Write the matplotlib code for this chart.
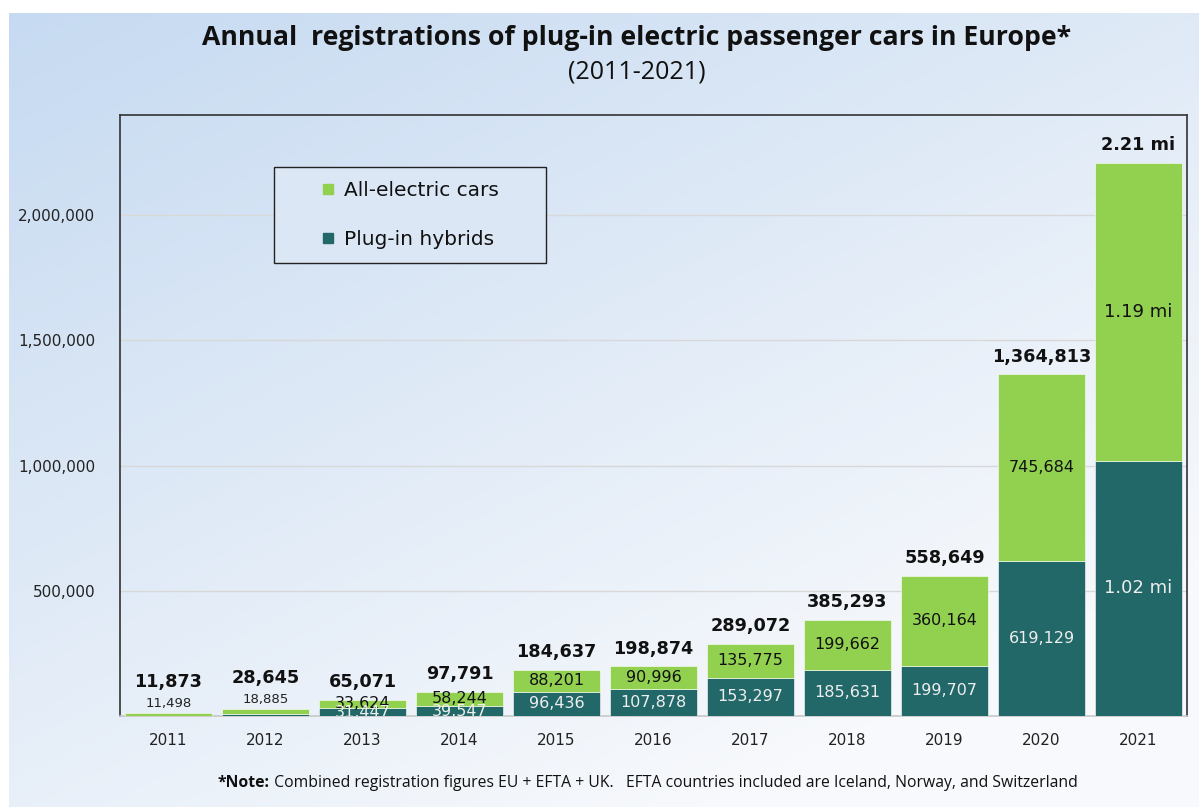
import matplotlib
matplotlib.use("Agg")
import matplotlib.pyplot as plt
import numpy as np
from matplotlib.lines import Line2D
from matplotlib.patches import Rectangle

years = ["2011", "2012", "2013", "2014", "2015", "2016", "2017", "2018", "2019", "2020", "2021"]
phev = [375, 9760, 31447, 39547, 96436, 107878, 153297, 185631, 199707, 619129, 1020000]
bev = [11498, 18885, 33624, 58244, 88201, 90996, 135775, 199662, 360164, 745684, 1190000]
totals_txt = ["11,873", "28,645", "65,071", "97,791", "184,637", "198,874", "289,072",
              "385,293", "558,649", "1,364,813", "2.21 mi"]
phev_txt = ["", "", "31,447", "39,547", "96,436", "107,878", "153,297", "185,631",
            "199,707", "619,129", "1.02 mi"]
bev_txt = ["11,498", "18,885", "33,624", "58,244", "88,201", "90,996", "135,775",
           "199,662", "360,164", "745,684", "1.19 mi"]
yticks = [500000, 1000000, 1500000, 2000000]
ytick_labels = ["500,000", "1,000,000", "1,500,000", "2,000,000"]

GREEN = "#92d050"
TEAL = "#226868"

W, H = 1199, 807
fig = plt.figure(figsize=(W / 100, H / 100), dpi=100)
fig.patch.set_facecolor("white")

# background gradient
bg = fig.add_axes([9 / W, 0, 1 - 9 / W, 1 - 13 / H])
bg.set_axis_off()
xx, yy = np.meshgrid(np.linspace(0, 1, 200), np.linspace(0, 1, 200))
t = np.clip(0.55 * xx + 0.75 * yy, 0, 1.1) / 1.1
c0 = np.array([0.776, 0.855, 0.945])
c1 = np.array([0.975, 0.98, 0.99])
img = c0[None, None, :] * (1 - t[..., None]) + c1[None, None, :] * t[..., None]
bg.imshow(img, aspect="auto", extent=[0, 1, 0, 1], origin="upper")
bg.set_zorder(-10)

ax_l, ax_r, ax_t, ax_b = 120, 1187, 115, 716
ax = fig.add_axes([ax_l / W, (H - ax_b) / H, (ax_r - ax_l) / W, (ax_b - ax_t) / H])
ax.patch.set_alpha(0)
x = np.arange(len(years))
ax.bar(x, phev, width=0.9, color=TEAL, edgecolor="white", linewidth=0.4, zorder=3)
ax.bar(x, bev, width=0.9, bottom=phev, color=GREEN, edgecolor="white", linewidth=0.4, zorder=3)
ax.set_xlim(-0.5, len(years) - 0.5)
ax.set_ylim(0, 2400000)
ax.set_yticks(yticks)
ax.set_yticklabels(ytick_labels, fontsize=11, color="#222222")
ax.set_xticks(x)
ax.set_xticklabels(years, fontsize=11, color="#222222")
ax.tick_params(axis="both", length=0)
ax.tick_params(axis="y", pad=18)
ax.tick_params(axis="x", pad=12)
ax.yaxis.grid(True, color="#d8d8d8", linewidth=1, zorder=0)
ax.set_axisbelow(True)
for s in ["left", "top", "right"]:
    ax.spines[s].set_color("#333333")
    ax.spines[s].set_linewidth(1.2)
ax.spines["bottom"].set_color("#c8c8c8")
ax.spines["bottom"].set_linewidth(1.2)

for i in range(len(years)):
    tot = phev[i] + bev[i]
    off = 16 if i < 2 else 6
    ax.annotate(totals_txt[i], xy=(x[i], tot), xytext=(0, off), textcoords="offset points",
                ha="center", va="bottom", fontsize=12.7, fontweight="bold", color="#111111", zorder=5)
    fs = 13 if i == 10 else 11.5
    if i < 2:
        ax.annotate(bev_txt[i], xy=(x[i], tot), xytext=(0, 2), textcoords="offset points",
                    ha="center", va="bottom", fontsize=9.5, color="#222222", zorder=5)
    else:
        ax.text(x[i], phev[i] + bev[i] / 2, bev_txt[i], ha="center", va="center",
                fontsize=fs, color="#111111", zorder=5)
        ax.text(x[i], phev[i] / 2, phev_txt[i], ha="center", va="center",
                fontsize=fs, color="#eeeeee", zorder=5, clip_on=(i < 4))

# legend
def fx(px):
    return (px - ax_l) / (ax_r - ax_l)

def fy(py):
    return 1 - (py - ax_t) / (ax_b - ax_t)

frame = Rectangle((fx(274), fy(263)), fx(546) - fx(274), fy(167) - fy(263),
                  transform=ax.transAxes, facecolor="#dce7f5", edgecolor="#222222",
                  linewidth=1.0, zorder=6)
ax.add_patch(frame)
handles = [Line2D([], [], marker="s", linestyle="none", markersize=7.5, color=GREEN),
           Line2D([], [], marker="s", linestyle="none", markersize=7.5, color=TEAL)]
leg = ax.legend(handles, ["All-electric cars", "Plug-in hybrids"], loc="upper left",
                bbox_to_anchor=(fx(318), fy(181)),
                fontsize=14.5, frameon=False, borderpad=0,
                labelspacing=1.5, handletextpad=0.3, borderaxespad=0,
                handlelength=1.0)
leg.set_zorder(7)
for txt in leg.get_texts():
    txt.set_color("#111111")

tfam = ["Liberation Sans Narrow", "Open Sans", "DejaVu Sans"]
fig.text(637 / W, 1 - 38 / H, "Annual  registrations of plug-in electric passenger cars in Europe*",
         ha="center", va="center", fontsize=19.2, fontweight="bold",
         family=tfam, color="#111111")
fig.text(637 / W, 1 - 72 / H, "(2011-2021)", ha="center", va="center", fontsize=18,
         family=tfam, color="#111111")

t1 = fig.text(218 / W, 1 - 783 / H, "*Note:", ha="left", va="center", fontsize=11.3,
              fontweight="bold", family=tfam, color="#111111")
ax.annotate(" Combined registration figures EU + EFTA + UK.   EFTA countries included are Iceland, Norway, and Switzerland",
            xy=(1, 0.5), xycoords=t1, ha="left", va="center", fontsize=11.3, family=tfam,
            color="#111111", annotation_clip=False)

fig.savefig("out.png", dpi=100)
